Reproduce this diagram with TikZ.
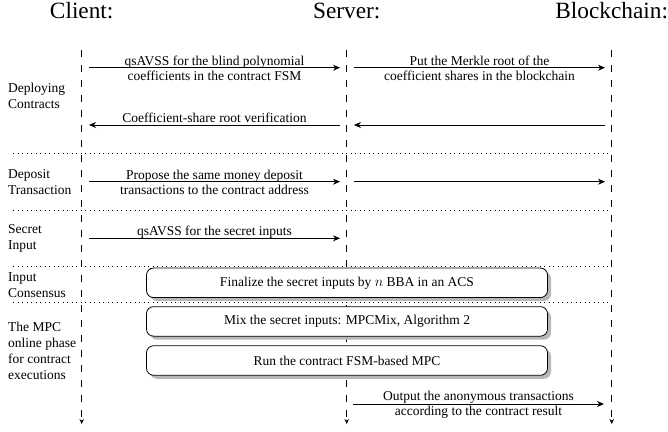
\documentclass[tikz,border=0pt]{standalone}
\usepackage{fontspec}
\setmainfont{Liberation Serif}
\usetikzlibrary{arrows.meta,shadows}
\begin{document}
\begin{tikzpicture}[x=1pt,y=-1pt,
  every node/.style={font=\rmfamily\fontsize{13.5}{15}\selectfont, inner sep=0pt},
  head/.style={font=\rmfamily\fontsize{23.3}{28}\selectfont, anchor=base},
  lifeline/.style={line width=0.6pt, dash pattern=on 7pt off 8pt, -{Stealth[length=5pt,width=4.5pt]}},
  msg/.style={line width=0.8pt, -{Stealth[length=7pt,width=6pt]}},
  sep/.style={line width=0.6pt, dash pattern=on 0.7pt off 3.8pt},
  rowlabel/.style={anchor=west, align=left, font=\rmfamily\fontsize{13.5}{15.5}\selectfont},
  msgtext/.style={anchor=base, align=center},
  phase/.style={draw, line width=0.8pt, fill=white, rounded corners=7pt,
    minimum width=401pt, minimum height=29.5pt,
    drop shadow={shadow xshift=3.5pt, shadow yshift=-3.5pt, fill=black!28, opacity=1}}
]
\useasboundingbox (0,0) rectangle (668,431);

% headers
\node[head] (hC) at (81.7,18) {Client:};
\node[head] (hS) at (346.7,18) {Server:};
\node[head] (hB) at (611.7,18) {Blockchain:};

% separators
\draw[sep] (13,153.3) -- (608,153.3);
\draw[sep] (13,210) -- (608,210);
\draw[sep] (13,266.7) -- (608,266.7);
\draw[sep] (13,302.7) -- (608,302.7);

% lifelines
\coordinate (cT) at (81.7,50);  \coordinate (cE) at (81.7,424);
\coordinate (sT) at (346.7,50); \coordinate (sE) at (346.7,424);
\coordinate (bT) at (611.7,50); \coordinate (bE) at (611.7,424);
\draw[lifeline] (cT) -- (cE);
\draw[lifeline] (sT) -- (sE);
\draw[lifeline] (bT) -- (bE);

% row labels
\node[rowlabel] (l1) at (8,96) {Deploying\\Contracts};
\node[rowlabel] (l2) at (8,182) {Deposit\\Transaction};
\node[rowlabel] (l3) at (8,238.3) {Secret\\Input};
\node[rowlabel] (l4) at (8,285) {Input\\Consensus};
\node[rowlabel, font=\rmfamily\fontsize{13.5}{16}\selectfont] (l5) at (8,351) {The MPC\\online phase\\for contract\\executions};

% deploying contracts
\coordinate (c1) at (89,67.7);  \coordinate (s1) at (340,67.7);
\coordinate (s1r) at (354,67.7); \coordinate (b1) at (605,67.7);
\draw[msg] (c1) -- (s1);
\node[msgtext] (t1) at (214.5,80) {qsAVSS for the blind polynomial\\coefficients in the contract FSM};
\draw[msg] (s1r) -- (b1);
\node[msgtext] (t2) at (479.5,80) {Put the Merkle root of the\\coefficient shares in the blockchain};

\coordinate (c2) at (89,125);  \coordinate (s2) at (340,125);
\coordinate (s2r) at (354,125); \coordinate (b2) at (605,125);
\draw[msg] (s2) -- (c2);
\node[msgtext] (t3) at (214.5,122) {Coefficient-share root verification};
\draw[msg] (b2) -- (s2r);

% deposit
\coordinate (c3) at (89,181.7);  \coordinate (s3) at (340,181.7);
\coordinate (s3r) at (354,181.7); \coordinate (b3) at (605,181.7);
\draw[msg] (c3) -- (s3);
\node[msgtext] (t4) at (214.5,194) {Propose the same money deposit\\transactions to the contract address};
\draw[msg] (s3r) -- (b3);

% secret input
\coordinate (c4) at (89,238.3);  \coordinate (s4) at (340,238.3);
\draw[msg] (c4) -- (s4);
\node[msgtext] (t5) at (214.5,235.5) {qsAVSS for the secret inputs};

% phase boxes
\node[phase] (p1) at (347,282.8) {Finalize the secret inputs by $n$ BBA in an ACS};
\node[phase] (p2) at (347,321.4) {Mix the secret inputs: MPCMix, Algorithm 2};
\node[phase] (p3) at (347,360.5) {Run the contract FSM-based MPC};

% output
\coordinate (s5) at (353,404); \coordinate (b5) at (604,404);
\draw[msg] (s5) -- (b5);
\node[msgtext] (t6) at (478.5,415.5) {Output the anonymous transactions\\according to the contract result};
\end{tikzpicture}
\end{document}
